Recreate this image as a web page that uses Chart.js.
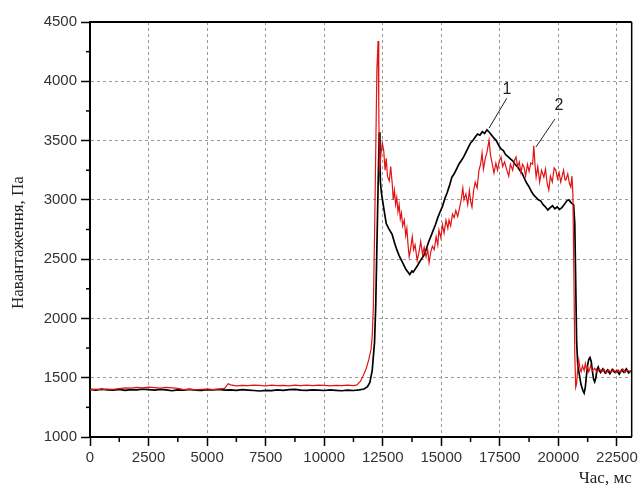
<!DOCTYPE html>
<html>
<head>
<meta charset="utf-8">
<script src="https://cdn.jsdelivr.net/npm/chart.js@4/dist/chart.umd.min.js"></script>
<style>
  body { margin: 0; background: #fff; }
  canvas { display: block; }
</style>
</head>
<body>
<canvas id="loadChart" width="641" height="488"></canvas>
<script>
// tick values of both axes
const xTicks = [0, 2500, 5000, 7500, 10000, 12500, 15000, 17500, 20000, 22500];
const yTicks = [1000, 1500, 2000, 2500, 3000, 3500, 4000, 4500];
const xMinor = [1250, 3750, 6250, 8750, 11250, 13750, 16250, 18750, 21250];
const yMinor = [1250, 1750, 2250, 2750, 3250, 3750, 4250];

// curve 1 (black): time, ms / load, Pa
const time1 = [
  0, 250, 500, 750, 1000, 1250, 1500, 1750, 2000, 2250, 2500, 2750, 3000, 3250, 3500, 3750,
  4000, 4250, 4500, 4750, 5000, 5250, 5500, 5750, 6000, 6250, 6500, 6750, 7000, 7250, 7500, 7750,
  8000, 8250, 8500, 8750, 9000, 9250, 9500, 9750, 10000, 10250, 10500, 10750, 11000, 11250, 11500,
  11700, 11850, 11950, 12050, 12150, 12200, 12250, 12300, 12350, 12380, 12400, 12450, 12520, 12600,
  12650, 12750, 12900, 13000, 13100, 13200, 13300, 13400, 13500, 13600, 13650, 13700, 13750, 13800,
  13900, 14000, 14050, 14150, 14250, 14350, 14450, 14550, 14650, 14750, 14850, 14950, 15050, 15150,
  15250, 15350, 15450, 15550, 15650, 15750, 15850, 15950, 16050, 16150, 16250, 16350, 16450, 16550,
  16650, 16750, 16850, 16950, 17050, 17150, 17250, 17350, 17450, 17550, 17650, 17750, 17850, 17950,
  18050, 18150, 18250, 18350, 18450, 18550, 18650, 18750, 18850, 18950, 19050, 19150, 19250, 19350,
  19450, 19550, 19650, 19750, 19850, 19950, 20050, 20150, 20250, 20350, 20450, 20550, 20650, 20700,
  20740, 20780, 20830, 20900, 20970, 21050, 21100, 21150, 21200, 21250, 21300, 21350, 21400, 21450,
  21500, 21550, 21600, 21650, 21700, 21750, 21800, 21900, 22000, 22100, 22200, 22300, 22400, 22500,
  22600, 22700, 22800, 22900, 23000, 23100
];
const load1 = [
  1402, 1396, 1404, 1398, 1395, 1401, 1393, 1400, 1397, 1404, 1399, 1395, 1402, 1397, 1390, 1398,
  1395, 1401, 1396, 1393, 1400, 1397, 1402, 1395, 1398, 1393, 1399, 1396, 1392, 1388, 1394, 1391,
  1397, 1393, 1399, 1402, 1396, 1393, 1398, 1395, 1392, 1398, 1394, 1390, 1396, 1392, 1398,
  1405, 1425, 1460, 1560, 1800, 2100, 2600, 3100, 3570, 3400, 3150, 3050, 2960, 2860,
  2800, 2760, 2710, 2640, 2580, 2530, 2490, 2450, 2410, 2385, 2370, 2385, 2400, 2390,
  2420, 2450, 2470, 2500, 2530, 2580, 2640, 2690, 2740, 2790, 2850, 2900, 2945, 3010,
  3060, 3120, 3190, 3220, 3260, 3300, 3330, 3360, 3400, 3440, 3480, 3500, 3530, 3555,
  3545, 3575, 3560, 3590, 3570, 3545, 3520, 3500, 3460, 3430, 3415, 3380, 3365, 3345,
  3330, 3300, 3280, 3250, 3225, 3180, 3140, 3110, 3070, 3040, 3020, 3000, 2990, 2960,
  2940, 2915, 2935, 2950, 2925, 2940, 2920, 2935, 2960, 2990, 3000, 2975, 2960, 2800,
  2300, 1800, 1600, 1520, 1440, 1390, 1370, 1420, 1520, 1610, 1655, 1670, 1640, 1560,
  1490, 1465, 1500, 1570, 1590, 1560, 1545, 1575, 1540, 1565, 1535, 1570, 1545, 1560,
  1530, 1565, 1545, 1575, 1540, 1560
];

// curve 2 (red)
const time2 = [
  0, 250, 500, 750, 1000, 1250, 1500, 1750, 2000, 2250, 2500, 2750, 3000, 3250, 3500, 3750,
  4000, 4250, 4500, 4750, 5000, 5250, 5500, 5750, 5900, 6000, 6250, 6500, 6750, 7000, 7250, 7500,
  7750, 8000, 8250, 8500, 8750, 9000, 9250, 9500, 9750, 10000, 10250, 10500, 10750, 11000, 11250,
  11400, 11550, 11650, 11800, 11900, 12000, 12050, 12100, 12150, 12200, 12250, 12300, 12330, 12360,
  12420, 12480, 12540, 12600, 12650, 12700, 12780, 12840, 12900, 12950, 13000, 13050, 13100, 13150,
  13200, 13250, 13300, 13350, 13420, 13480, 13530, 13580, 13630, 13700, 13760, 13820, 13880, 13970,
  14050, 14120, 14200, 14270, 14350, 14420, 14480, 14550, 14620, 14700, 14780, 14850, 14900, 14980,
  15050, 15120, 15200, 15280, 15330, 15400, 15480, 15550, 15620, 15700, 15760, 15850, 15920, 15970,
  16050, 16130, 16200, 16260, 16310, 16380, 16450, 16530, 16610, 16680, 16740, 16800, 16880, 16950,
  17040, 17100, 17180, 17250, 17330, 17400, 17480, 17550, 17620, 17700, 17800, 17880, 17950, 18050,
  18120, 18190, 18260, 18330, 18400, 18470, 18530, 18600, 18680, 18750, 18820, 18900, 18950, 19000,
  19050, 19120, 19200, 19280, 19380, 19450, 19520, 19590, 19660, 19740, 19820, 19890, 19960, 20030,
  20100, 20150, 20220, 20280, 20320, 20400, 20470, 20530, 20580, 20620, 20660, 20700, 20740, 20780,
  20830, 20870, 20920, 20970, 21030, 21100, 21150, 21200, 21250, 21300, 21380, 21450, 21550, 21650,
  21750, 21850, 21950, 22050, 22150, 22250, 22350, 22450, 22550, 22650, 22750, 22850, 22950, 23050,
  23100
];
const load2 = [
  1400, 1403, 1398, 1405, 1401, 1408, 1415, 1412, 1418, 1414, 1420, 1416, 1412, 1418, 1414, 1410,
  1400, 1403, 1398, 1402, 1405, 1400, 1404, 1410, 1450, 1440, 1432, 1436, 1433, 1438, 1435, 1432,
  1437, 1434, 1436, 1432, 1438, 1434, 1437, 1433, 1438, 1435, 1432, 1436, 1433, 1437, 1434,
  1440, 1470, 1510, 1580, 1650, 1740, 1850, 2100, 2700, 3400, 4100, 4340, 3800, 3230,
  3380, 3480, 3420, 3250, 3350, 3200, 3160, 3280, 3150, 3000, 3080, 2960, 3020, 2900,
  2960, 2840, 2890, 2780, 2830, 2700, 2760, 2620, 2520, 2600, 2690, 2580, 2620, 2490,
  2560, 2650, 2540, 2600, 2520, 2580, 2470, 2560, 2610, 2580, 2690, 2620, 2745, 2680,
  2790, 2720, 2830, 2760, 2830, 2780, 2880, 2850, 2910, 2860, 2914, 3000, 3100, 3000,
  3050, 2960, 3080, 2980, 2939, 3080, 3150, 3100, 3251, 3300, 3395, 3260, 3350, 3400,
  3504, 3380, 3300, 3226, 3310, 3250, 3330, 3361, 3280, 3320, 3251, 3200, 3300, 3250,
  3330, 3361, 3280, 3320, 3230, 3300, 3277, 3200, 3300, 3240, 3310, 3300, 3455, 3300,
  3192, 3280, 3150, 3250, 3192, 3260, 3140, 3083, 3200, 3150, 3270, 3251, 3180, 3230,
  3150, 3192, 3250, 3170, 3167, 3220, 3140, 3108, 3200, 3050, 2400, 1700, 1420, 1450,
  1600, 1650, 1580, 1550, 1600, 1560, 1620, 1570, 1590, 1550, 1600, 1560, 1580, 1545,
  1575, 1550, 1570, 1540, 1565, 1545, 1570, 1540, 1565, 1545, 1575, 1545, 1565, 1550,
  1560
];

function toPoints(xs, ys) {
  return xs.map(function (x, i) { return { x: x, y: ys[i] }; });
}

// frame, minor ticks, y title and the "1" / "2" call-outs
const extras = {
  id: "extras",
  afterDraw: function (chart) {
    const c = chart.ctx;
    const a = chart.chartArea;
    const xs = chart.scales.x;
    const ys = chart.scales.y;
    c.save();
    c.strokeStyle = "#000";
    c.lineWidth = 2;
    c.beginPath();
    c.moveTo(a.left, a.top);
    c.lineTo(a.right, a.top);
    c.stroke();
    c.lineWidth = 1.5;
    c.beginPath();
    c.moveTo(a.right, a.top);
    c.lineTo(a.right, a.bottom);
    c.stroke();

    xMinor.forEach(function (v) {
      const px = xs.getPixelForValue(v);
      c.beginPath();
      c.moveTo(px, a.bottom);
      c.lineTo(px, a.bottom + 5);
      c.stroke();
    });
    yMinor.forEach(function (v) {
      const py = ys.getPixelForValue(v);
      c.beginPath();
      c.moveTo(a.left, py);
      c.lineTo(a.left - 4, py);
      c.stroke();
    });

    c.lineWidth = 1;
    c.strokeStyle = "#222";
    c.beginPath();
    c.moveTo(xs.getPixelForValue(17800), ys.getPixelForValue(3858));
    c.lineTo(xs.getPixelForValue(17040), ys.getPixelForValue(3605));
    c.moveTo(xs.getPixelForValue(19850), ys.getPixelForValue(3681));
    c.lineTo(xs.getPixelForValue(19040), ys.getPixelForValue(3445));
    c.stroke();

    c.fillStyle = "#222";
    c.font = "16px 'Liberation Sans'";
    c.textAlign = "center";
    c.textBaseline = "middle";
    c.fillText("1", xs.getPixelForValue(17800), ys.getPixelForValue(3926));
    c.fillText("2", xs.getPixelForValue(20020), ys.getPixelForValue(3799));

    // y axis title sits a little below the middle in the original
    c.translate(19, ys.getPixelForValue(2640));
    c.rotate(-Math.PI / 2);
    c.font = "17px 'Liberation Serif'";
    c.fillText("Навантаження, Па", 0, 0);
    c.restore();
  }
};

const tickFont = { family: "Liberation Sans", size: 15 };

new Chart(document.getElementById("loadChart"), {
  type: "line",
  data: {
    datasets: [
      {
        label: "2",
        data: toPoints(time2, load2),
        borderColor: "rgb(225, 20, 20)",
        borderWidth: 1.2,
        pointRadius: 0
      },
      {
        label: "1",
        data: toPoints(time1, load1),
        borderColor: "#000",
        borderWidth: 1.7,
        pointRadius: 0
      }
    ]
  },
  options: {
    responsive: false,
    animation: false,
    layout: { padding: { top: 22, right: 8, left: 0, bottom: 0 } },
    plugins: { legend: { display: false }, tooltip: { enabled: false } },
    scales: {
      x: {
        type: "linear",
        min: 0,
        max: 23130,
        afterBuildTicks: function (s) { s.ticks = xTicks.map(function (v) { return { value: v }; }); },
        afterFit: function (s) { s.height = 51; },
        ticks: {
          autoSkip: false,
          maxRotation: 0,
          padding: 3,
          color: "#333",
          font: tickFont,
          callback: function (v) { return String(v); }
        },
        grid: { color: "#999", tickColor: "#000", tickLength: 9, tickWidth: 1.5 },
        border: { color: "#000", width: 2, dash: [3, 3] },
        title: {
          display: true,
          text: "Час, мс",
          align: "end",
          color: "#222",
          padding: 0,
          font: { family: "Liberation Serif", size: 17, lineHeight: 1.1 }
        }
      },
      y: {
        min: 1000,
        max: 4500,
        afterBuildTicks: function (s) { s.ticks = yTicks.map(function (v) { return { value: v }; }); },
        afterFit: function (s) { s.width = 90; },
        ticks: {
          padding: 4,
          color: "#333",
          font: tickFont,
          callback: function (v) { return String(v); }
        },
        grid: { color: "#999", tickColor: "#000", tickLength: 9, tickWidth: 1.5 },
        border: { color: "#000", width: 2, dash: [3, 3] }
      }
    }
  },
  plugins: [extras]
});
</script>
</body>
</html>
